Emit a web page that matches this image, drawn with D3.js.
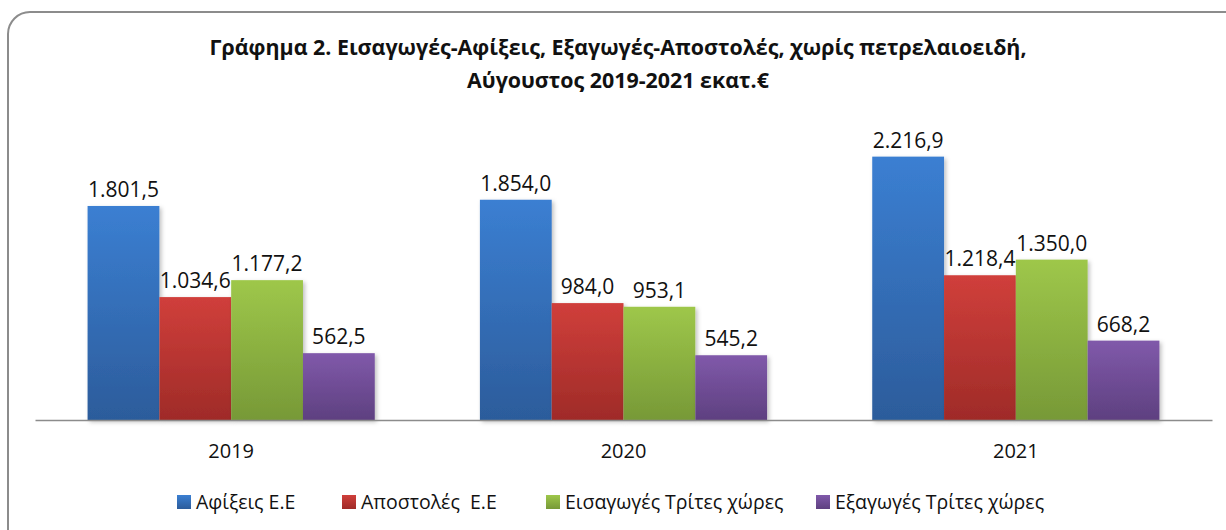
<!DOCTYPE html>
<html>
<head>
<meta charset="utf-8">
<script src="https://cdn.jsdelivr.net/npm/d3@7"></script>
<style>
  body { margin: 0; background: #fff; }
  svg { display: block; font-family: "Open Sans", "Noto Sans", sans-serif; }
</style>
</head>
<body>
<svg width="1226" height="530"></svg>
<script>
// data
var years = ["2019", "2020", "2021"]
var seriesNames = ["Αφίξεις Ε.Ε", "Αποστολές  Ε.Ε", "Εισαγωγές Τρίτες χώρες", "Εξαγωγές Τρίτες χώρες"]
var afixeis = [1801.5, 1854.0, 2216.9]
var apostoles = [1034.6, 984.0, 1218.4]
var eisagoges = [1177.2, 953.1, 1350.0]
var exagoges = [562.5, 545.2, 668.2]
var colorsTop = ["#3b7fd2", "#d03f3b", "#9ec74a", "#8059aa"]
var colorsBottom = ["#2c5c9b", "#9f2b28", "#779937", "#5e4080"]

var allSeries = [afixeis, apostoles, eisagoges, exagoges]

var svg = d3.select("svg")
var defs = svg.append("defs")

colorsTop.forEach((c, i) => {
    var g = defs.append("linearGradient").attr("id", "grad" + i)
        .attr("x1", 0).attr("y1", 0).attr("x2", 0).attr("y2", 1)
    g.append("stop").attr("offset", "0%").attr("stop-color", c)
    g.append("stop").attr("offset", "100%").attr("stop-color", colorsBottom[i])
})
var f = defs.append("filter").attr("id", "shadow").attr("x", "-10%").attr("y", "-10%").attr("width", "130%").attr("height", "130%")
f.append("feDropShadow").attr("dx", 2).attr("dy", 2).attr("stdDeviation", 2).attr("flood-opacity", 0.25)

// frame
svg.append("rect")
    .attr("x", 8).attr("y", 12)
    .attr("width", 1245).attr("height", 545)
    .attr("rx", 22)
    .attr("fill", "none").attr("stroke", "#8c8c8c").attr("stroke-width", 2)

// title
var title = svg.append("text").attr("text-anchor", "middle")
    .attr("font-weight", "bold").attr("font-size", 21.4).attr("fill", "#111")
title.append("tspan").attr("x", 618).attr("y", 55)
    .text("Γράφημα 2. Εισαγωγές-Αφίξεις, Εξαγωγές-Αποστολές, χωρίς πετρελαιοειδή,")
title.append("tspan").attr("x", 618).attr("y", 88)
    .text("Αύγουστος 2019-2021 εκατ.€")

var x0 = d3.scaleBand().domain(years).range([35, 1212]).paddingInner(0.268).paddingOuter(0.134)
var x1 = d3.scaleBand().domain(d3.range(4)).range([0, x0.bandwidth()])
var y = d3.scaleLinear().domain([0, 2500]).range([420, 123])

var fmt = v => {
    var s = d3.format(",.1f")(v)
    return s.replace(/,/g, "#").replace(".", ",").replace(/#/g, ".")
}

var groups = svg.selectAll("g.year").data(years).enter().append("g")
    .attr("class", "year")
    .attr("transform", d => "translate(" + x0(d) + ",0)")

groups.each(function(yr, yi) {
    var g = d3.select(this)
    allSeries.forEach((s, si) => {
        g.append("rect")
            .attr("x", x1(si)).attr("y", y(s[yi]))
            .attr("width", x1.bandwidth()).attr("height", y(0) - y(s[yi]))
            .attr("fill", "url(#grad" + si + ")")
            .attr("filter", "url(#shadow)")
    })
    allSeries.forEach((s, si) => {
        g.append("text")
            .attr("x", x1(si) + x1.bandwidth() / 2).attr("y", y(s[yi]) - 9)
            .attr("text-anchor", "middle").attr("font-size", 21).attr("fill", "#111")
            .text(fmt(s[yi]))
    })
})

// axis
var xAxis = svg.append("g").attr("transform", "translate(0,420)")
    .call(d3.axisBottom(x0).tickSize(0).tickPadding(24))
xAxis.select(".domain").attr("stroke", "#8c8c8c").attr("stroke-width", 1.5)
xAxis.selectAll("text").attr("font-size", 20).attr("fill", "#111")
    .attr("font-family", "'Open Sans', 'Noto Sans', sans-serif")

// legend
var legendX = [177, 342, 546, 816]
var legend = svg.append("g")
seriesNames.forEach((n, i) => {
    legend.append("rect").attr("x", legendX[i]).attr("y", 495)
        .attr("width", 14).attr("height", 14).attr("fill", "url(#grad" + i + ")")
    legend.append("text").attr("x", legendX[i] + 19).attr("y", 509)
        .attr("font-size", 19.5).attr("fill", "#111")
        .style("white-space", "pre")
        .text(n)
})
</script>
</body>
</html>
